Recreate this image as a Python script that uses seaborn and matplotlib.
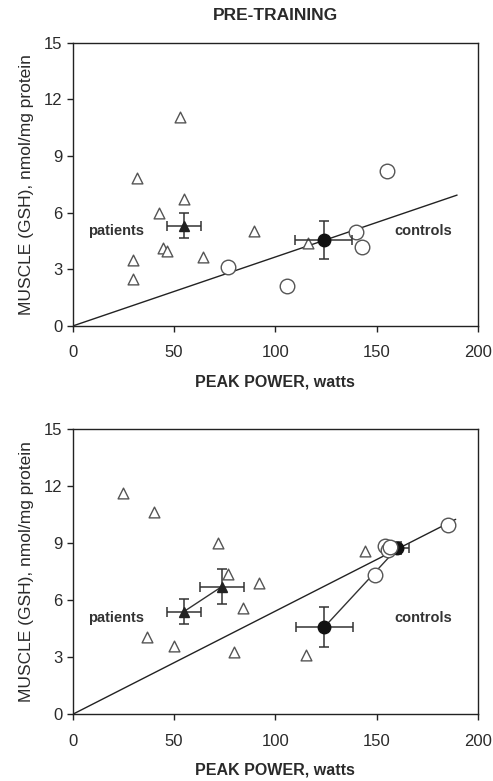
import matplotlib
matplotlib.use("Agg")
import matplotlib.pyplot as plt
import seaborn as sns
import pandas as pd

# ---------------- data ----------------
# PRE-TRAINING
pre_pat_x = [52.8, 31.5, 54.9, 42.8, 89.7, 44.6, 46.6, 64.4, 29.8, 29.8, 115.9]
pre_pat_y = [11.05, 7.82, 6.7, 6.0, 5.05, 4.15, 3.99, 3.67, 3.49, 2.49, 4.38]
pre_ctl_x = [155.2, 139.7, 143.0, 76.7, 105.9]
pre_ctl_y = [8.22, 4.99, 4.2, 3.14, 2.14]
pre_pat_mean = [54.9, 5.31]
pre_pat_err = [8.3, 0.66]
pre_ctl_mean = [123.8, 4.55]
pre_ctl_err = [14.1, 1.02]
pre_fit_x = [0, 189.7]
pre_fit_y = [0, 6.93]

# POST-TRAINING
post_pat_x = [24.8, 40.0, 71.5, 144.3, 76.6, 91.8, 83.8, 36.7, 49.8, 79.8, 114.9]
post_pat_y = [11.63, 10.63, 9.0, 8.61, 7.37, 6.89, 5.58, 4.09, 3.61, 3.30, 3.12]
post_ctl_x = [185.2, 149.2, 154.2, 155.6, 156.4]
post_ctl_y = [9.98, 7.33, 8.85, 8.62, 8.78]
post_pat_means_x = [54.8, 73.6]
post_pat_means_y = [5.40, 6.72]
post_pat_err_x = [8.4, 10.7]
post_pat_err_y = [0.67, 0.93]
post_ctl_means_x = [124.1, 160.2]
post_ctl_means_y = [4.58, 8.74]
post_ctl_err_x = [14.0, 6.0]
post_ctl_err_y = [1.04, 0.33]
post_fit_x = [0, 189.0]
post_fit_y = [0, 10.26]

x_ticks = [0, 50, 100, 150, 200]
y_ticks = [0, 3, 6, 9, 12, 15]

# ---------------- style ----------------
sns.set_style("ticks")
plt.rcParams['font.family'] = ['Liberation Sans', 'DejaVu Sans']

fig = plt.figure(figsize=(4.93, 7.81), dpi=100)
ax1 = fig.add_axes([0.1475, 0.5826, 0.822, 0.3628])
ax2 = fig.add_axes([0.1475, 0.0854, 0.822, 0.365])

edge = "#555555"
errc = "#333333"
txt = "#2a2a2a"


def style_axis(ax):
    ax.set_xlim(0, 200)
    ax.set_ylim(0, 15)
    ax.set_xticks(x_ticks)
    ax.set_yticks(y_ticks)
    ax.tick_params(axis='both', labelsize=12, color='#222222', width=1.0,
                   length=4, direction='out', labelcolor=txt)
    ax.tick_params(axis='x', pad=10)
    for s in ax.spines.values():
        s.set_visible(True)
        s.set_color('#222222')
        s.set_linewidth(1.0)
    ax.set_xlabel("PEAK POWER, watts", fontsize=11.5, fontweight='bold',
                  color=txt, labelpad=10)
    ax.set_ylabel("MUSCLE (GSH), nmol/mg protein", fontsize=12.5,
                  color=txt, labelpad=7)
    ax.text(21.3, 5.05, "patients", fontsize=10.5, fontweight='bold',
            ha='center', va='center', color='#333333')
    ax.text(172.8, 5.05, "controls", fontsize=10.5, fontweight='bold',
            ha='center', va='center', color='#333333')


# ---- top panel ----
sns.lineplot(x=pre_fit_x, y=pre_fit_y, ax=ax1, color='#222222', lw=1.0)
sns.scatterplot(x=pre_pat_x, y=pre_pat_y, ax=ax1, marker='^', s=60,
                facecolor='white', edgecolor=edge, linewidth=1.0, zorder=3)
sns.scatterplot(x=pre_ctl_x, y=pre_ctl_y, ax=ax1, marker='o', s=110,
                facecolor='white', edgecolor=edge, linewidth=1.0, zorder=3)
ax1.errorbar(pre_pat_mean[0], pre_pat_mean[1], xerr=pre_pat_err[0],
             yerr=pre_pat_err[1], fmt='^', color=errc, ms=7, mfc='#222222',
             mec='#222222', capsize=3.5, elinewidth=1.1, capthick=1.1, zorder=4)
ax1.errorbar(pre_ctl_mean[0], pre_ctl_mean[1], xerr=pre_ctl_err[0],
             yerr=pre_ctl_err[1], fmt='o', color=errc, ms=9, mfc='#111111',
             mec='#111111', capsize=3.5, elinewidth=1.1, capthick=1.1, zorder=4)
style_axis(ax1)
ax1.set_title("PRE-TRAINING", fontsize=12.5, fontweight='bold',
              color=txt, pad=16)

# ---- bottom panel ----
sns.lineplot(x=post_fit_x, y=post_fit_y, ax=ax2, color='#222222', lw=1.0)
sns.lineplot(x=post_pat_means_x, y=post_pat_means_y, ax=ax2,
             color='#333333', lw=1.0)
sns.lineplot(x=post_ctl_means_x, y=post_ctl_means_y, ax=ax2,
             color='#333333', lw=1.0)
sns.scatterplot(x=post_pat_x, y=post_pat_y, ax=ax2, marker='^', s=60,
                facecolor='white', edgecolor=edge, linewidth=1.0, zorder=3)
for mx, my, ex, ey in zip(post_ctl_means_x, post_ctl_means_y,
                          post_ctl_err_x, post_ctl_err_y):
    ax2.errorbar(mx, my, xerr=ex, yerr=ey, fmt='o', color=errc, ms=9,
                 mfc='#111111', mec='#111111', capsize=3.5, elinewidth=1.1,
                 capthick=1.1, zorder=2.5)
sns.scatterplot(x=post_ctl_x, y=post_ctl_y, ax=ax2, marker='o', s=110,
                facecolor='white', edgecolor=edge, linewidth=1.0, zorder=3)
for mx, my, ex, ey in zip(post_pat_means_x, post_pat_means_y,
                          post_pat_err_x, post_pat_err_y):
    ax2.errorbar(mx, my, xerr=ex, yerr=ey, fmt='^', color=errc, ms=7,
                 mfc='#222222', mec='#222222', capsize=3.5, elinewidth=1.1,
                 capthick=1.1, zorder=4)
style_axis(ax2)

fig.savefig("out.png", dpi=100)
